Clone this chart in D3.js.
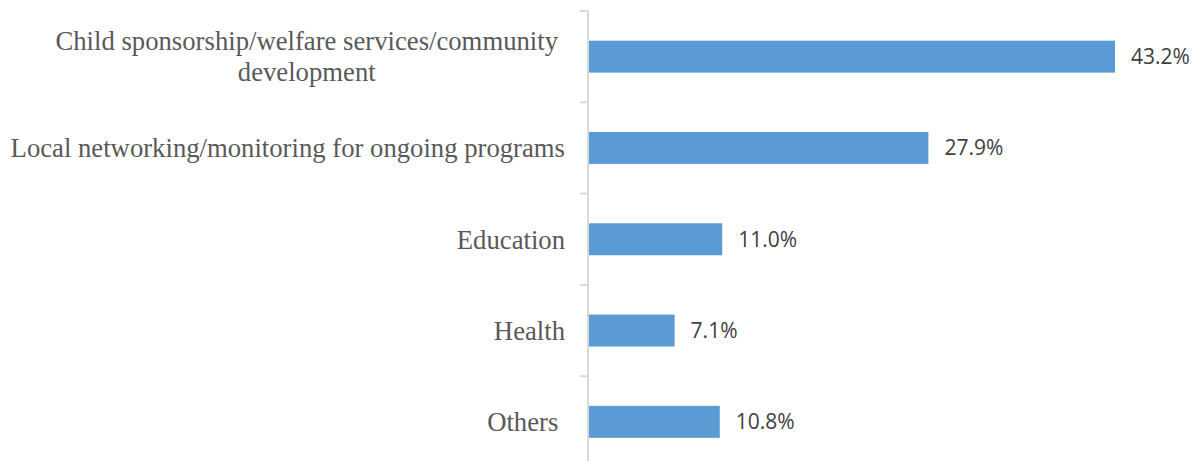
<!DOCTYPE html>
<html><head><meta charset="utf-8">
<script src="https://cdn.jsdelivr.net/npm/d3@7"></script>
<style>body{margin:0;background:#fff}svg{display:block}</style>
</head><body>
<svg id="chart" width="1195" height="461"></svg>
<script>
const categories = [
  ["Child sponsorship/welfare services/community", "development"],
  ["Local networking/monitoring for ongoing programs"],
  ["Education"],
  ["Health"],
  ["Others "]
];
const values = [43.2, 27.9, 11.0, 7.1, 10.8];
const valueLabels = ["43.2%", "27.9%", "11.0%", "7.1%", "10.8%"];

const svg = d3.select("#chart");
const ids = categories.map((c, i) => i);
const axisX = 588;
const y = d3.scaleBand().domain(ids).range([11, 11 + 5 * 91.3]).paddingInner(0.65).paddingOuter(0.325);
const x = d3.scaleLinear().domain([0, 50]).range([axisX, axisX + 610]);

// axis
const gap = (y.step() - y.bandwidth()) / 2;
svg.append("line").attr("x1", axisX).attr("x2", axisX).attr("y1", 11).attr("y2", 470)
  .attr("stroke", "#d9d9d9").attr("stroke-width", 2);
const bounds = ids.map(i => y(i) - gap).concat([y(4) + y.bandwidth() + gap]);
svg.selectAll("line.tick").data(bounds).join("line").attr("class", "tick")
  .attr("x1", axisX - 8).attr("x2", axisX).attr("y1", d => d).attr("y2", d => d)
  .attr("stroke", "#d9d9d9").attr("stroke-width", 2);

// bars
svg.selectAll("rect.bar").data(values).join("rect").attr("class", "bar")
  .attr("x", x(0) + 1).attr("y", (d, i) => y(i))
  .attr("width", d => x(d) - x(0) - 1).attr("height", y.bandwidth())
  .attr("fill", "#5b9bd5");

// value labels
svg.selectAll("text.val").data(values).join("text").attr("class", "val")
  .attr("x", d => x(d) + 16).attr("y", (d, i) => y(i) + y.bandwidth() / 2)
  .attr("dy", "0.35em")
  .attr("font-family", "'Open Sans', sans-serif").attr("font-size", 21)
  .attr("fill", "#404040")
  .text((d, i) => valueLabels[i]);

// category labels
const lineH = 31;
categories.forEach((lines, i) => {
  const labelRight = lines.length > 1 ? 558 : 565;
  const cy = y(i) + y.bandwidth() / 2;
  const g = svg.append("g");
  const ts = lines.map((l, j) => g.append("text")
    .attr("font-family", "'Liberation Serif', 'Times New Roman', serif")
    .attr("font-size", 26.7).attr("fill", "#595959")
    .attr("text-anchor", "middle").attr("xml:space", "preserve")
    .attr("y", cy + (j - (lines.length - 1) / 2) * lineH).attr("dy", "0.35em")
    .text(l));
  const maxW = d3.max(ts, t => t.node().getComputedTextLength());
  ts.forEach(t => t.attr("x", labelRight - maxW / 2));
});
</script>
</body></html>
